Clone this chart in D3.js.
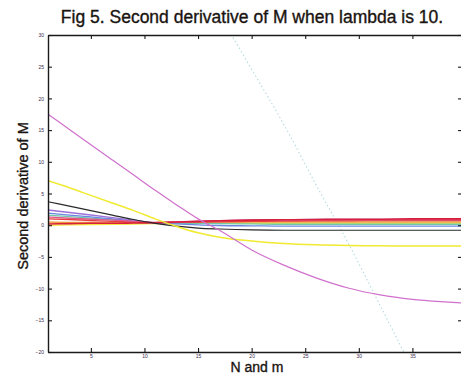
<!DOCTYPE html>
<head>
  <meta charset="utf-8">
  <script src="https://d3js.org/d3.v7.min.js"></script>
  <style>
    body { margin:0; background-color: white; overflow:hidden; }
    text { font-family: 'Liberation Sans', Arial, sans-serif; }
    .tick text { font-size: 5px; fill: #3a2a4a; }
    .frame line, .frame path { stroke: #1a1a1a; }
    .label { fill: #1a1410; stroke: #1a1410; stroke-width: 0.35px; }
  </style>
</head>
<body>
  <svg id="chart" width="461" height="375"></svg>
  <script>
  // sampled N values
  var nVals = [1, 3, 5, 7, 9, 11, 13, 15, 17, 20, 23, 26, 29, 32, 35, 38, 40];

  var blackLine  = [3.7, 3.0, 2.3, 1.6, 0.9, 0.3, -0.15, -0.45, -0.6, -0.75, -0.8, -0.8, -0.8, -0.8, -0.8, -0.8, -0.8];
  var yellowLine = [7.0, 5.9, 4.7, 3.5, 2.3, 1.0, -0.2, -1.2, -1.9, -2.5, -2.9, -3.1, -3.2, -3.25, -3.3, -3.3, -3.3];
  var magentaLine = [17.5, 15.1, 12.7, 10.3, 7.9, 5.5, 3.2, 1.0, -0.8, -3.9, -6.3, -8.3, -9.9, -11.0, -11.7, -12.1, -12.3];
  var cyanLine   = [null, null, null, null, null, null, null, 38.8, 33.2, 24.6, 15.9, 6.4, -2.8, -12.7, -22.7, null, null];
  var purpleLine = [2.4, 2.0, 1.6, 1.2, 0.8, 0.4, 0.5, 0.6, 0.7, 0.8, 0.85, 0.9, 0.9, 0.9, 0.9, 0.9, 0.9];
  var blueLine   = [1.9, 1.6, 1.3, 1.0, 0.65, 0.35, 0.2, 0.05, -0.05, -0.1, -0.15, -0.15, -0.15, -0.15, -0.15, -0.15, -0.15];
  var greenLine  = [1.6, 1.35, 1.1, 0.85, 0.6, 0.35, 0.3, 0.3, 0.25, 0.2, 0.15, 0.15, 0.15, 0.15, 0.15, 0.15, 0.15];
  var pinkLine   = [1.3, 1.1, 0.95, 0.8, 0.6, 0.4, 0.5, 0.6, 0.7, 0.8, 0.8, 0.85, 0.85, 0.85, 0.85, 0.85, 0.85];
  var redLine    = [1.0, 0.9, 0.75, 0.6, 0.5, 0.4, 0.45, 0.5, 0.55, 0.6, 0.65, 0.7, 0.7, 0.75, 0.75, 0.75, 0.75];
  var orangeLine = [0.5, 0.45, 0.45, 0.4, 0.4, 0.35, 0.4, 0.45, 0.5, 0.5, 0.5, 0.5, 0.5, 0.5, 0.5, 0.5, 0.5];
  var red2Line   = [0.2, 0.25, 0.3, 0.3, 0.35, 0.4, 0.5, 0.6, 0.7, 0.8, 0.85, 0.9, 0.95, 0.95, 1.0, 1.0, 1.0];
  var yellow2Line = [0.0, 0.05, 0.1, 0.15, 0.2, 0.25, 0.25, 0.3, 0.3, 0.3, 0.3, 0.3, 0.3, 0.3, 0.3, 0.3, 0.3];

  var series = [
    {vals: cyanLine, color: "#b4dbe0", w: 1.1, dash: "1.5,2.5"},
    {vals: yellow2Line, color: "#f2e63c", w: 1.4},
    {vals: orangeLine, color: "#f0a040", w: 1.4},
    {vals: greenLine, color: "#70c8a8", w: 1.3},
    {vals: blueLine, color: "#6a86e0", w: 1.3},
    {vals: purpleLine, color: "#9c70d8", w: 1.4},
    {vals: redLine, color: "#e84040", w: 1.4},
    {vals: pinkLine, color: "#e05888", w: 1.4},
    {vals: red2Line, color: "#d8203c", w: 1.6},
    {vals: blackLine, color: "#2a2a2a", w: 1.2},
    {vals: yellowLine, color: "#f0ea30", w: 1.5},
    {vals: magentaLine, color: "#d070cc", w: 1.2}
  ];

  var xTicks = [5, 10, 15, 20, 25, 30, 35, 40];
  var yTicks = [-20, -15, -10, -5, 0, 5, 10, 15, 20, 25, 30];

  var svg = d3.select("#chart");
  var x = d3.scaleLinear().domain([1, 40]).range([48, 466]);
  var y = d3.scaleLinear().domain([-20, 30]).range([352, 35]);

  svg.append("clipPath").attr("id", "clip")
    .append("rect").attr("x", 48).attr("y", 35).attr("width", 418).attr("height", 317);

  var line = d3.line()
    .defined(function(d) { return d[1] != null; })
    .x(function(d) { return x(d[0]); })
    .y(function(d) { return y(d[1]); })
    .curve(d3.curveMonotoneX);

  var plot = svg.append("g").attr("clip-path", "url(#clip)");
  series.forEach(function(s) {
    var pts = nVals.map(function(n, i) { return [n, s.vals[i]]; });
    plot.append("path")
      .attr("d", line(pts))
      .attr("fill", "none")
      .attr("stroke", s.color)
      .attr("stroke-width", s.w)
      .attr("stroke-dasharray", s.dash || null);
  });

  // axes, ticks pointing inward
  var frame = svg.append("g").attr("class", "frame");
  var bottom = frame.append("g").attr("transform", "translate(0,352)")
    .call(d3.axisBottom(x).tickValues(xTicks).tickSizeInner(-4).tickSizeOuter(0).tickPadding(2));
  var top = frame.append("g").attr("transform", "translate(0,35)")
    .call(d3.axisTop(x).tickValues(xTicks).tickSizeInner(-4).tickSizeOuter(0).tickFormat(""));
  var left = frame.append("g").attr("transform", "translate(48,0)")
    .call(d3.axisLeft(y).tickValues(yTicks).tickSizeInner(-4).tickSizeOuter(0).tickPadding(4));
  var right = frame.append("g").attr("transform", "translate(462,0)")
    .call(d3.axisRight(y).tickValues(yTicks).tickSizeInner(-4).tickSizeOuter(0).tickFormat(""));
  frame.selectAll(".domain").attr("stroke-width", 1.4);
  frame.selectAll(".tick line").attr("stroke-width", 1.1);
  right.select(".domain").remove();
  bottom.selectAll(".tick text").filter(function(d) { return d == 40; }).remove();

  svg.append("text")
    .attr("class", "label")
    .attr("x", 252).attr("y", 23)
    .attr("text-anchor", "middle")
    .style("font-size", "17.5px")
    .text("Fig 5. Second derivative of M when lambda is 10.");

  svg.append("text")
    .attr("class", "label")
    .attr("transform", "translate(28,196) rotate(-90)")
    .attr("text-anchor", "middle")
    .style("font-size", "14.5px")
    .text("Second derivative of M");

  svg.append("text")
    .attr("class", "label")
    .attr("x", 257).attr("y", 372)
    .attr("text-anchor", "middle")
    .style("font-size", "14px")
    .text("N and m");
  </script>
</body>
